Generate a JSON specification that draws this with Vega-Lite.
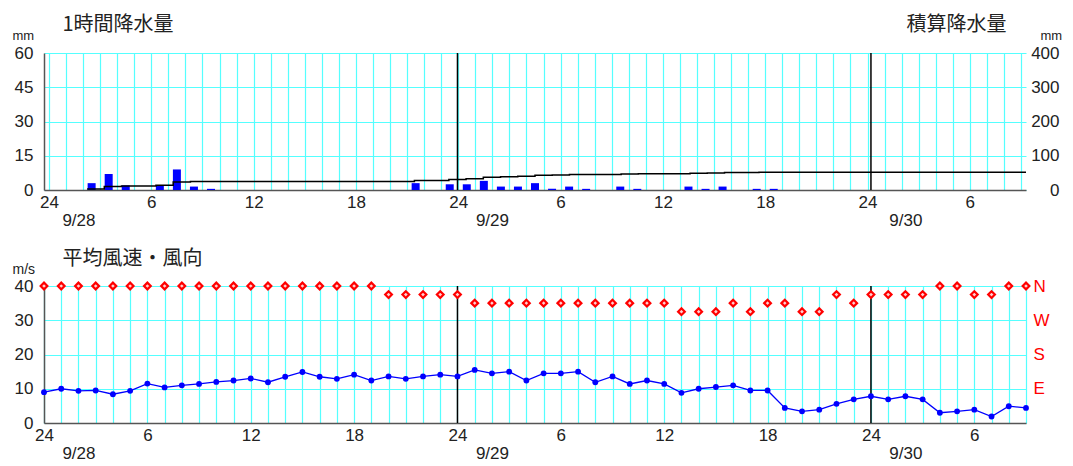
{
  "$schema": "https://vega.github.io/schema/vega-lite/v6.json",
  "background": "white",
  "padding": {"left": 12, "top": 14, "right": 5, "bottom": 5},
  "config": {
    "view": {"stroke": null},
    "axis": {
      "labelFont": "Liberation Sans",
      "labelFontSize": 17,
      "labelColor": "#222",
      "titleFont": "Noto Sans CJK JP",
      "titleFontWeight": "normal",
      "titleColor": "#222",
      "gridColor": "#55ffff",
      "gridOpacity": 1,
      "gridWidth": 1.2,
      "domainColor": "#555",
      "domainWidth": 1.5,
      "ticks": false,
      "labelOverlap": false,
      "labelFlush": false
    }
  },
  "datasets": {
    "rain": [
      {"t": 2.5, "mm": 3}, {"t": 3.5, "mm": 7}, {"t": 4.5, "mm": 2}, {"t": 6.5, "mm": 2},
      {"t": 7.5, "mm": 9}, {"t": 8.5, "mm": 1.5}, {"t": 9.5, "mm": 0.5}, {"t": 21.5, "mm": 3},
      {"t": 23.5, "mm": 2.5}, {"t": 24.5, "mm": 2.5}, {"t": 25.5, "mm": 4}, {"t": 26.5, "mm": 1.5},
      {"t": 27.5, "mm": 1.5}, {"t": 28.5, "mm": 3}, {"t": 29.5, "mm": 0.5}, {"t": 30.5, "mm": 1.5},
      {"t": 31.5, "mm": 0.5}, {"t": 33.5, "mm": 1.5}, {"t": 34.5, "mm": 0.5}, {"t": 37.5, "mm": 1.5},
      {"t": 38.5, "mm": 0.5}, {"t": 39.5, "mm": 1.5}, {"t": 41.5, "mm": 0.5}, {"t": 42.5, "mm": 0.5}
    ],
    "cum": [
      {"t": 2.5, "cum": 3}, {"t": 3.5, "cum": 10}, {"t": 4.5, "cum": 12}, {"t": 6.5, "cum": 14},
      {"t": 7.5, "cum": 23}, {"t": 8.5, "cum": 24.5}, {"t": 9.5, "cum": 25}, {"t": 21.5, "cum": 28},
      {"t": 23.5, "cum": 30.5}, {"t": 24.5, "cum": 33}, {"t": 25.5, "cum": 37}, {"t": 26.5, "cum": 38.5},
      {"t": 27.5, "cum": 40}, {"t": 28.5, "cum": 43}, {"t": 29.5, "cum": 43.5}, {"t": 30.5, "cum": 45},
      {"t": 31.5, "cum": 45.5}, {"t": 33.5, "cum": 47}, {"t": 34.5, "cum": 47.5}, {"t": 37.5, "cum": 49},
      {"t": 38.5, "cum": 49.5}, {"t": 39.5, "cum": 51}, {"t": 41.5, "cum": 51.5}, {"t": 42.5, "cum": 52},
      {"t": 57, "cum": 52}
    ],
    "wind": [
      {"h": 0, "speed": 9.0, "dir": 360}, {"h": 1, "speed": 10.0, "dir": 360}, {"h": 2, "speed": 9.4, "dir": 360},
      {"h": 3, "speed": 9.5, "dir": 360}, {"h": 4, "speed": 8.4, "dir": 360}, {"h": 5, "speed": 9.4, "dir": 360},
      {"h": 6, "speed": 11.5, "dir": 360}, {"h": 7, "speed": 10.4, "dir": 360}, {"h": 8, "speed": 11.0, "dir": 360},
      {"h": 9, "speed": 11.4, "dir": 360}, {"h": 10, "speed": 12.0, "dir": 360}, {"h": 11, "speed": 12.4, "dir": 360},
      {"h": 12, "speed": 13.0, "dir": 360}, {"h": 13, "speed": 11.9, "dir": 360}, {"h": 14, "speed": 13.5, "dir": 360},
      {"h": 15, "speed": 14.9, "dir": 360}, {"h": 16, "speed": 13.5, "dir": 360}, {"h": 17, "speed": 12.9, "dir": 360},
      {"h": 18, "speed": 14.1, "dir": 360}, {"h": 19, "speed": 12.4, "dir": 360}, {"h": 20, "speed": 13.6, "dir": 337.5},
      {"h": 21, "speed": 12.9, "dir": 337.5}, {"h": 22, "speed": 13.6, "dir": 337.5}, {"h": 23, "speed": 14.1, "dir": 337.5},
      {"h": 24, "speed": 13.6, "dir": 337.5}, {"h": 25, "speed": 15.5, "dir": 315}, {"h": 26, "speed": 14.5, "dir": 315},
      {"h": 27, "speed": 15.0, "dir": 315}, {"h": 28, "speed": 12.4, "dir": 315}, {"h": 29, "speed": 14.5, "dir": 315},
      {"h": 30, "speed": 14.5, "dir": 315}, {"h": 31, "speed": 15.0, "dir": 315}, {"h": 32, "speed": 11.9, "dir": 315},
      {"h": 33, "speed": 13.6, "dir": 315}, {"h": 34, "speed": 11.4, "dir": 315}, {"h": 35, "speed": 12.4, "dir": 315},
      {"h": 36, "speed": 11.4, "dir": 315}, {"h": 37, "speed": 8.8, "dir": 292.5}, {"h": 38, "speed": 10.0, "dir": 292.5},
      {"h": 39, "speed": 10.5, "dir": 292.5}, {"h": 40, "speed": 11.0, "dir": 315}, {"h": 41, "speed": 9.5, "dir": 292.5},
      {"h": 42, "speed": 9.5, "dir": 315}, {"h": 43, "speed": 4.4, "dir": 315}, {"h": 44, "speed": 3.4, "dir": 292.5},
      {"h": 45, "speed": 3.9, "dir": 292.5}, {"h": 46, "speed": 5.6, "dir": 337.5}, {"h": 47, "speed": 6.9, "dir": 315},
      {"h": 48, "speed": 7.8, "dir": 337.5}, {"h": 49, "speed": 6.9, "dir": 337.5}, {"h": 50, "speed": 7.8, "dir": 337.5},
      {"h": 51, "speed": 6.9, "dir": 337.5}, {"h": 52, "speed": 3.0, "dir": 360}, {"h": 53, "speed": 3.4, "dir": 360},
      {"h": 54, "speed": 3.9, "dir": 337.5}, {"h": 55, "speed": 1.9, "dir": 337.5}, {"h": 56, "speed": 4.9, "dir": 360},
      {"h": 57, "speed": 4.4, "dir": 360}
    ],
    "days": [{"t": 24}, {"t": 48}]
  },
  "bounds": "flush",
  "spacing": 96,
  "vconcat": [
    {
      "width": 982,
      "height": 137,
      "resolve": {"scale": {"x": "independent", "y": "independent"}},
      "layer": [
        {
          "data": {"name": "days"},
          "mark": {"type": "rule", "color": "black", "strokeWidth": 1.5},
          "encoding": {
            "x": {"field": "t", "type": "quantitative", "scale": {"domain": [0, 57], "nice": false, "zero": false}, "axis": null}
          }
        },
        {
          "data": {"name": "rain"},
          "mark": {"type": "bar", "color": "#0000ff", "size": 8},
          "encoding": {
            "x": {
              "field": "t", "type": "quantitative",
              "scale": {"domain": [0, 57], "nice": false, "zero": false},
              "axis": {
                "orient": "bottom",
                "values": [0,1,2,3,4,5,6,7,8,9,10,11,12,13,14,15,16,17,18,19,20,21,22,23,24,25,26,27,28,29,30,31,32,33,34,35,36,37,38,39,40,41,42,43,44,45,46,47,48,49,50,51,52,53,54,55,56,57],
                "grid": true,
                "labelExpr": "datum.value % 6 == 0 ? (datum.value % 24 == 0 ? '24' : '' + (datum.value % 24)) : ''",
                "labelPadding": 4,
                "title": "1時間降水量",
                "titleFontSize": 20,
                "titleX": 18,
                "titleY": -160,
                "titleAlign": "left",
                "titleBaseline": "alphabetic"
              }
            },
            "y": {
              "field": "mm", "type": "quantitative",
              "scale": {"domain": [0, 60], "nice": false},
              "axis": {
                "orient": "left",
                "values": [0, 15, 30, 45, 60],
                "grid": true,
                "labelPadding": 11,
                "title": "mm",
                "titleAngle": 0,
                "titleX": -32,
                "titleY": -14,
                "titleAlign": "left",
                "titleBaseline": "alphabetic",
                "titleFont": "Liberation Sans",
                "titleFontSize": 13
              }
            }
          }
        },
        {
          "data": {"name": "cum"},
          "mark": {"type": "line", "interpolate": "step-after", "color": "black", "strokeWidth": 1.5},
          "encoding": {
            "x": {
              "field": "t", "type": "quantitative",
              "scale": {"domain": [0, 57], "nice": false, "zero": false},
              "axis": {
                "orient": "bottom",
                "values": [2, 26, 50],
                "labelExpr": "datum.value == 2 ? '9/28' : (datum.value == 26 ? '9/29' : '9/30')",
                "grid": false,
                "domain": false,
                "labelPadding": 22,
                "title": "積算降水量",
                "titleFontSize": 20,
                "titleX": 962,
                "titleY": -160,
                "titleAlign": "right",
                "titleBaseline": "alphabetic"
              }
            },
            "y": {
              "field": "cum", "type": "quantitative",
              "scale": {"domain": [0, 400], "nice": false},
              "axis": {
                "orient": "right",
                "values": [0, 100, 200, 300, 400],
                "grid": false,
                "domain": false,
                "labelAlign": "right",
                "labelPadding": 33,
                "title": "mm",
                "titleAngle": 0,
                "titleX": 14,
                "titleY": -14,
                "titleAlign": "left",
                "titleBaseline": "alphabetic",
                "titleFont": "Liberation Sans",
                "titleFontSize": 13
              }
            }
          }
        }
      ]
    },
    {
      "width": 982,
      "height": 137,
      "resolve": {"scale": {"x": "independent", "y": "independent"}},
      "layer": [
        {
          "data": {"name": "days"},
          "mark": {"type": "rule", "color": "black", "strokeWidth": 1.5},
          "encoding": {
            "x": {"field": "t", "type": "quantitative", "scale": {"domain": [0, 57], "nice": false, "zero": false}, "axis": null}
          }
        },
        {
          "data": {"name": "wind"},
          "mark": {"type": "line", "color": "#0000ff", "strokeWidth": 1.3, "point": {"filled": true, "size": 34, "color": "#0000ff"}},
          "encoding": {
            "x": {
              "field": "h", "type": "quantitative",
              "scale": {"domain": [0, 57], "nice": false, "zero": false},
              "axis": {
                "orient": "bottom",
                "values": [0,1,2,3,4,5,6,7,8,9,10,11,12,13,14,15,16,17,18,19,20,21,22,23,24,25,26,27,28,29,30,31,32,33,34,35,36,37,38,39,40,41,42,43,44,45,46,47,48,49,50,51,52,53,54,55,56,57],
                "grid": true,
                "labelExpr": "datum.value % 6 == 0 ? (datum.value % 24 == 0 ? '24' : '' + (datum.value % 24)) : ''",
                "labelPadding": 4,
                "title": "平均風速・風向",
                "titleFontSize": 20,
                "titleX": 18,
                "titleY": -159,
                "titleAlign": "left",
                "titleBaseline": "alphabetic"
              }
            },
            "y": {
              "field": "speed", "type": "quantitative",
              "scale": {"domain": [0, 40], "nice": false},
              "axis": {
                "orient": "left",
                "values": [0, 10, 20, 30, 40],
                "grid": true,
                "labelPadding": 11,
                "title": "m/s",
                "titleAngle": 0,
                "titleX": -32,
                "titleY": -13,
                "titleAlign": "left",
                "titleBaseline": "alphabetic",
                "titleFont": "Liberation Sans",
                "titleFontSize": 14
              }
            }
          }
        },
        {
          "data": {"name": "wind"},
          "mark": {"type": "point", "shape": "diamond", "size": 45, "filled": true, "fill": "#ffd0d0", "stroke": "#ff0000", "strokeWidth": 2.2, "opacity": 1},
          "encoding": {
            "x": {
              "field": "h", "type": "quantitative",
              "scale": {"domain": [0, 57], "nice": false, "zero": false},
              "axis": {
                "orient": "bottom",
                "values": [2, 26, 50],
                "labelExpr": "datum.value == 2 ? '9/28' : (datum.value == 26 ? '9/29' : '9/30')",
                "grid": false,
                "domain": false,
                "labelPadding": 22,
                "title": null
              }
            },
            "y": {
              "field": "dir", "type": "quantitative",
              "scale": {"domain": [0, 360], "nice": false},
              "axis": {
                "orient": "right",
                "values": [90, 180, 270, 360],
                "labelExpr": "datum.value == 90 ? 'E' : (datum.value == 180 ? 'S' : (datum.value == 270 ? 'W' : 'N'))",
                "labelColor": "#ff0000",
                "labelAlign": "left",
                "labelPadding": 7,
                "grid": false,
                "domain": false,
                "title": null
              }
            }
          }
        }
      ]
    }
  ]
}
